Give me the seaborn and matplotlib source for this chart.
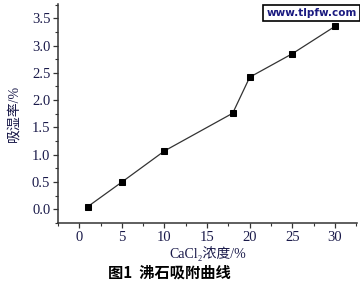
import matplotlib
matplotlib.use("Agg")
import matplotlib.pyplot as plt
import seaborn as sns
import pandas as pd
from matplotlib.ticker import MultipleLocator

concentration = [1, 5, 10, 18, 20, 25, 30]
moisture = [0.05, 0.50, 1.07, 1.76, 2.42, 2.85, 3.35]
x_ticks = [0, 5, 10, 15, 20, 25, 30]
y_ticks = [0.0, 0.5, 1.0, 1.5, 2.0, 2.5, 3.0, 3.5]

sns.set_theme(style="ticks")
plt.rcParams['font.family'] = ['Liberation Serif', 'Noto Sans CJK SC', 'DejaVu Sans']

df = pd.DataFrame({"c": concentration, "m": moisture})

fig = plt.figure(figsize=(3.6, 2.85), dpi=100)
ax = fig.add_axes([0.161, 0.2175, 0.831, 0.7685])

sns.lineplot(data=df, x="c", y="m", ax=ax, color="#333333", linewidth=0.9,
             marker="s", markersize=4.5, markerfacecolor="black",
             markeredgecolor="black")

ax.set_xlim(-2.5, 32.6)
ax.set_ylim(-0.25, 3.76)
ax.set_xticks(x_ticks)
ax.set_yticks(y_ticks)
ax.set_xticklabels([str(v) for v in x_ticks], color="#1a1a4a")
ax.set_yticklabels([f"{v:.1f}" for v in y_ticks], color="#1a1a4a")
ax.xaxis.set_minor_locator(MultipleLocator(2.5))
ax.yaxis.set_minor_locator(MultipleLocator(0.25))
ax.tick_params(axis="both", which="major", direction="out", length=3.5, width=0.9,
               labelsize=10.5, color="#333333", pad=2)
ax.tick_params(axis="both", which="minor", direction="out", length=2, width=0.8,
               color="#333333")
for side in ["top", "right"]:
    ax.spines[side].set_visible(False)
for side in ["left", "bottom"]:
    ax.spines[side].set_linewidth(1.1)
    ax.spines[side].set_color("#333333")

ax.set_xlabel("CaCl\u2082浓度/%", fontsize=10, color="#1a1a4a", labelpad=2)
ax.set_ylabel("吸湿率/%", fontsize=10, color="#1a1a4a", labelpad=8)

fig.text(0.47, 0.042, "图1  沸石吸附曲线", ha="center", va="center",
         fontsize=11, fontweight="bold", color="black",
         family=['Noto Sans CJK SC', 'DejaVu Sans'])

fig.text(0.865, 0.955, "www.tlpfw.com", ha="center", va="center",
         fontsize=7.5, fontweight="bold", color="#1a1a80",
         family=['DejaVu Sans'],
         bbox=dict(boxstyle="square,pad=0.3", facecolor="white",
                   edgecolor="black", linewidth=1.2))

fig.savefig("out.png", dpi=100)
